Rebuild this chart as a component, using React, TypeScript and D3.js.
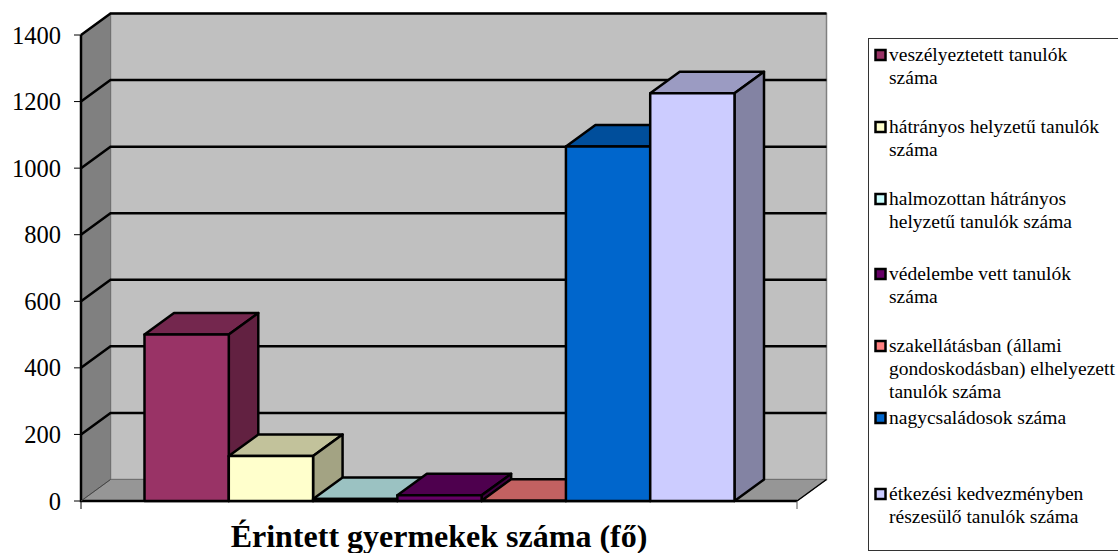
import React from 'react'
import * as d3 from 'd3'

const categories = [
  ['veszélyeztetett tanulók', 'száma'],
  ['hátrányos helyzetű tanulók', 'száma'],
  ['halmozottan hátrányos', 'helyzetű tanulók száma'],
  ['védelembe vett tanulók', 'száma'],
  ['szakellátásban (állami', 'gondoskodásban) elhelyezett', 'tanulók száma'],
  ['nagycsaládosok száma'],
  ['étkezési kedvezményben', 'részesülő tanulók száma'],
]
const values = [500, 135, 6, 17, 1, 1065, 1225]
const colors = ['#993366', '#ffffcc', '#ccffff', '#660066', '#ff8080', '#0066cc', '#ccccff']
const yTicks = [0, 200, 400, 600, 800, 1000, 1200, 1400]
const title = 'Érintett gyermekek száma (fő)'

// legend row tops, the rows are not evenly spaced in the original
const legendRows = [61, 133, 205, 280, 352, 424, 500]

const W = 1118
const H = 553
const dx = 29.5
const dy = -21.5
const font = '"Liberation Serif", "Times New Roman", serif'

const y = d3.scaleLinear().domain([0, 1400]).range([501, 35])
const x = d3.scaleBand<number>().domain(d3.range(values.length)).range([144.5, 734.5])
const frontLeft = 81
const frontRight = 797

const shade = (c: string, k: number) => {
  const r = d3.rgb(c)
  return d3.rgb(r.r * k, r.g * k, r.b * k).formatHex()
}
const poly = (pts: [number, number][]) => d3.line()(pts) + 'Z'

export default function App() {
  const y0 = y(0)
  const yTop = y(1400)
  return (
    <svg width={W} height={H} style={{ position: 'absolute', left: 0, top: 0 }} fontFamily={font}>
      {/* walls and floor */}
      <path d={poly([[frontLeft + dx, yTop + dy], [frontRight + dx, yTop + dy], [frontRight + dx, y0 + dy], [frontLeft + dx, y0 + dy]])} fill="#c0c0c0" stroke="#808080" strokeWidth={1.5} />
      <path d={poly([[frontLeft, yTop], [frontLeft + dx, yTop + dy], [frontLeft + dx, y0 + dy], [frontLeft, y0]])} fill="#808080" stroke="#707070" strokeWidth={1} />
      <path d={poly([[frontLeft, y0], [frontLeft + dx, y0 + dy], [frontRight + dx, y0 + dy], [frontRight, y0]])} fill="#969696" stroke="#707070" strokeWidth={1} />

      {/* gridlines */}
      {yTicks.slice(1).map(t => (
        <path key={t} d={d3.line()([[frontLeft, y(t)], [frontLeft + dx, y(t) + dy], [frontRight + dx, y(t) + dy]]) as string} fill="none" stroke="#000" strokeWidth={2.5} />
      ))}
      <path d={d3.line()([[frontLeft, yTop], [frontLeft, y0], [frontRight, y0]]) as string} fill="none" stroke="#000" strokeWidth={2.5} />
      <path d={d3.line()([[frontLeft, y0], [frontLeft + dx, y0 + dy]]) as string} fill="none" stroke="#444" strokeWidth={1} />
      <path d={d3.line()([[frontRight, y0], [frontRight + dx, y0 + dy]]) as string} fill="none" stroke="#000" strokeWidth={1.5} />

      {/* axis ticks and labels */}
      {yTicks.map(t => (
        <g key={t}>
          <line x1={frontLeft - 7} x2={frontLeft} y1={y(t)} y2={y(t)} stroke="#000" strokeWidth={1} />
          <text x={frontLeft - 20} y={y(t) + 8.5} fontSize={24.5} textAnchor="end" fill="#000">{t}</text>
        </g>
      ))}
      <line x1={frontLeft} x2={frontLeft} y1={y0} y2={y0 + 8} stroke="#000" strokeWidth={1} />
      <line x1={frontRight} x2={frontRight} y1={y0} y2={y0 + 8} stroke="#555" strokeWidth={1} />

      {/* bars */}
      {values.map((v, i) => {
        const l = x(i) as number
        const r = l + x.bandwidth()
        const t = y(v)
        return (
          <g key={i} stroke="#000" strokeWidth={2.5} strokeLinejoin="round">
            <path d={poly([[l, t], [l + dx, t + dy], [r + dx, t + dy], [r, t]])} fill={shade(colors[i], 0.76)} />
            <path d={poly([[r, t], [r + dx, t + dy], [r + dx, y0 + dy], [r, y0]])} fill={shade(colors[i], 0.64)} />
            <path d={poly([[l, t], [r, t], [r, y0], [l, y0]])} fill={colors[i]} />
          </g>
        )
      })}

      <text x={439} y={547} fontSize={32} fontWeight="bold" textAnchor="middle" fill="#000">{title}</text>

      {/* legend */}
      <rect x={868.5} y={38.5} width={260} height={512} fill="none" stroke="#333" strokeWidth={1} />
      {categories.map((lines, i) => (
        <g key={i}>
          <rect x={875.5} y={legendRows[i] - 11} width={10} height={10} fill={colors[i]} stroke="#000" strokeWidth={2.5} />
          {lines.map((s, j) => (
            <text key={j} x={889} y={legendRows[i] + j * 23} fontSize={19.5} fill="#000">{s}</text>
          ))}
        </g>
      ))}
    </svg>
  )
}
